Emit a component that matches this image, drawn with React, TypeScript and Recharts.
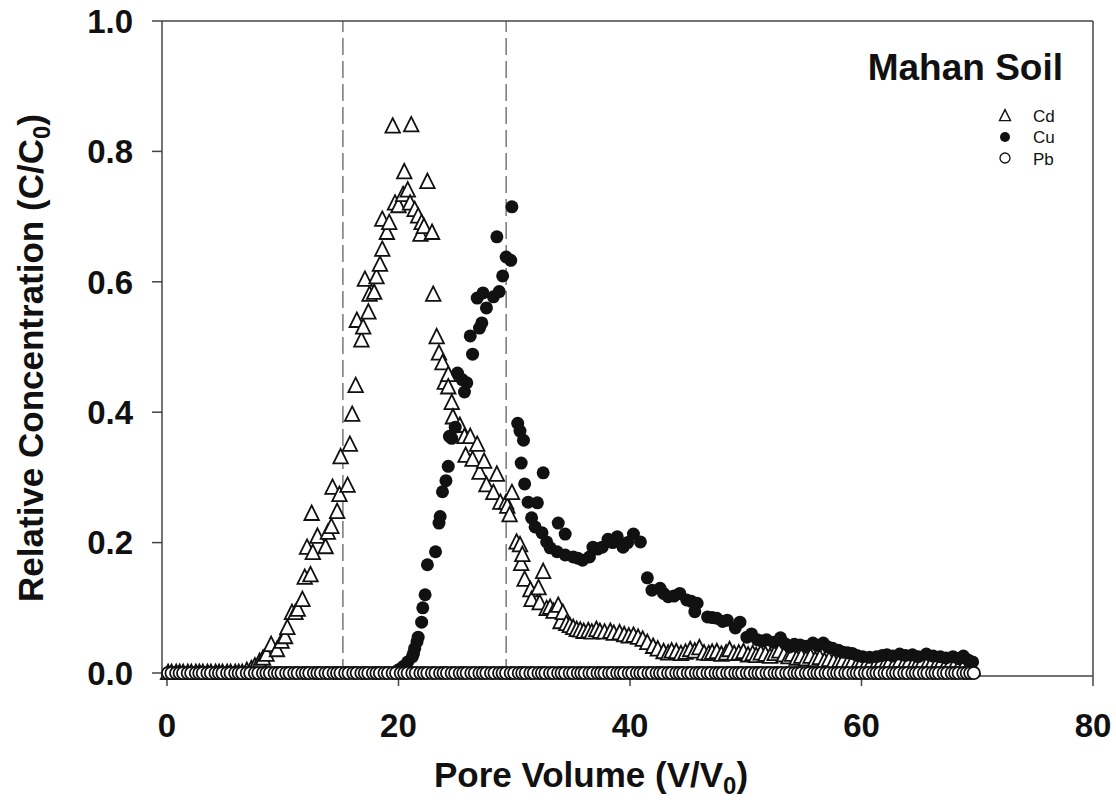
import React from 'react'
import { ScatterChart, Scatter, XAxis, YAxis, ReferenceLine } from 'recharts'

// pore volumes of the collected effluent samples (V/V0)
const poreVolumes = [
  0.1, 0.4, 0.8, 1.1, 1.4, 1.8, 2.1, 2.5, 2.8, 3.1, 3.5, 3.8, 4.2, 4.5, 4.8, 5.2, 5.5, 5.9, 6.2, 6.5,
  6.9, 7.2, 7.6, 7.9, 8.3, 8.6, 8.9, 9.3, 9.6, 9.9, 10.3, 10.6, 11.0, 11.3, 11.7, 12.0, 12.3, 12.7, 13.0, 13.3,
  13.7, 14.0, 14.4, 14.7, 15.0, 15.4, 15.7, 16.1, 16.4, 16.8, 17.1, 17.4, 17.8, 18.1, 18.4, 18.8, 19.1, 19.5, 19.8, 20.2,
  20.5, 20.8, 21.2, 21.5, 21.9, 22.2, 22.5, 22.9, 23.2, 23.6, 23.9, 24.2, 24.6, 24.9, 25.3, 25.6, 25.9, 26.3, 26.6, 27.0,
  27.3, 27.6, 28.0, 28.3, 28.7, 29.0, 29.3, 29.7, 30.0, 30.4, 30.7, 31.0, 31.4, 31.7, 32.1, 32.4, 32.7, 33.1, 33.4, 33.8,
  34.1, 34.4, 34.8, 35.1, 35.5, 35.8, 36.1, 36.5, 36.8, 37.2, 37.5, 37.8, 38.2, 38.5, 38.9, 39.2, 39.5, 39.9, 40.2, 40.6,
  40.9, 41.2, 41.6, 41.9, 42.3, 42.6, 42.9, 43.3, 43.6, 44.0, 44.3, 44.6, 45.0, 45.3, 45.7, 46.0, 46.3, 46.7, 47.0, 47.4,
  47.7, 48.0, 48.4, 48.7, 49.1, 49.4, 49.7, 50.1, 50.4, 50.8, 51.1, 51.4, 51.8, 52.1, 52.5, 52.8, 53.1, 53.5, 53.8, 54.2,
  54.5, 54.8, 55.2, 55.5, 55.9, 56.2, 56.5, 56.9, 57.2, 57.6, 57.9, 58.2, 58.6, 58.9, 59.3, 59.6, 59.9, 60.3, 60.6, 61.0,
  61.3, 61.6, 62.0, 62.3, 62.7, 63.0, 63.3, 63.7, 64.0, 64.4, 64.7, 65.0, 65.4, 65.7, 66.1, 66.4, 66.7, 67.1, 67.4, 67.8,
  68.1, 68.4, 68.8, 69.1, 69.4, 69.7,
]

// Cd breakthrough (V/V0, C/C0)
const cdPoints: [number, number][] = [
  [6.9, 0.003], [7.3, 0.006], [7.6, 0.01], [8.0, 0.017], [8.3, 0.022], [8.6, 0.028], [9.0, 0.043], [9.5, 0.035],
  [9.9, 0.048], [10.2, 0.055], [10.4, 0.069], [10.8, 0.092], [11.1, 0.092], [11.3, 0.097], [11.7, 0.112], [11.9, 0.146],
  [12.1, 0.192], [12.4, 0.15], [12.5, 0.244], [12.6, 0.184], [13.0, 0.209], [13.7, 0.193], [13.9, 0.215], [14.2, 0.224],
  [14.3, 0.284], [14.7, 0.247], [14.9, 0.273], [15.0, 0.331], [15.6, 0.287], [15.8, 0.35], [16.0, 0.396], [16.3, 0.44],
  [16.4, 0.54], [16.8, 0.51], [16.95, 0.53], [17.1, 0.603], [17.4, 0.553], [17.5, 0.58], [17.9, 0.583], [18.1, 0.607],
  [18.4, 0.626], [18.6, 0.649], [18.6, 0.695], [19.0, 0.675], [19.2, 0.69], [19.5, 0.838], [19.7, 0.72], [20.0, 0.716],
  [20.4, 0.733], [20.5, 0.768], [20.8, 0.74], [21.0, 0.72], [21.1, 0.84], [21.4, 0.71], [21.7, 0.7], [21.9, 0.672],
  [22.0, 0.69], [22.2, 0.684], [22.5, 0.753], [22.9, 0.675], [23.0, 0.58], [23.3, 0.515], [23.5, 0.49], [23.8, 0.475],
  [24.0, 0.445], [24.3, 0.457], [24.3, 0.438], [24.6, 0.414], [24.7, 0.392], [25.3, 0.379], [25.7, 0.362], [25.8, 0.333],
  [26.2, 0.362], [26.4, 0.327], [26.8, 0.35], [27.0, 0.307], [27.4, 0.324], [27.6, 0.288], [28.2, 0.276], [28.5, 0.304],
  [28.8, 0.261], [29.3, 0.261], [29.4, 0.255], [29.6, 0.242], [29.8, 0.276], [30.2, 0.2], [30.5, 0.196], [30.6, 0.167],
  [30.7, 0.181], [30.9, 0.143], [31.4, 0.127], [31.5, 0.112], [32.1, 0.13], [32.2, 0.107], [32.5, 0.155], [32.8, 0.098],
  [33.1, 0.1], [33.4, 0.094], [33.8, 0.103], [34.0, 0.078], [34.2, 0.092], [34.5, 0.075], [34.8, 0.072], [35.1, 0.069],
  [35.4, 0.066], [35.7, 0.065], [36.0, 0.063], [36.4, 0.064], [36.7, 0.062], [37.1, 0.066], [37.4, 0.063], [37.8, 0.062],
  [38.3, 0.063], [38.6, 0.06], [39.1, 0.061], [39.5, 0.058], [39.9, 0.056], [40.3, 0.057], [40.7, 0.054], [41.1, 0.051],
  [41.5, 0.046], [42.0, 0.04], [42.4, 0.036], [42.9, 0.032], [43.3, 0.03], [43.6, 0.033], [44.0, 0.032], [44.4, 0.029],
  [44.8, 0.031], [45.2, 0.035], [45.6, 0.033], [46.0, 0.038], [46.4, 0.03], [46.8, 0.029], [47.1, 0.031], [47.5, 0.032],
  [47.9, 0.028], [48.3, 0.03], [48.6, 0.035], [49.0, 0.029], [49.4, 0.03], [49.8, 0.032], [50.2, 0.027], [50.6, 0.029],
  [50.9, 0.026], [51.3, 0.03], [51.7, 0.028], [52.1, 0.025], [52.5, 0.029], [52.9, 0.033], [53.3, 0.027], [53.7, 0.024],
  [54.0, 0.028], [54.4, 0.022], [54.8, 0.025], [55.2, 0.021], [55.6, 0.025], [56.0, 0.02], [56.4, 0.023], [56.8, 0.018],
  [57.2, 0.02], [57.6, 0.017], [58.0, 0.015], [58.4, 0.018], [58.8, 0.014], [59.2, 0.016], [59.6, 0.012], [60.0, 0.015],
  [60.4, 0.013], [60.8, 0.014], [61.2, 0.011], [61.6, 0.013], [62.0, 0.012], [62.4, 0.015], [62.8, 0.012], [63.2, 0.014],
  [63.6, 0.011], [64.0, 0.013], [64.4, 0.01], [64.8, 0.012], [65.2, 0.014], [65.6, 0.011], [66.0, 0.012], [66.4, 0.01],
  [66.8, 0.012], [67.2, 0.009], [67.6, 0.011], [68.0, 0.01], [68.4, 0.008], [68.8, 0.009], [69.2, 0.008], [69.6, 0.007],
]

// Cu breakthrough (V/V0, C/C0)
const cuPoints: [number, number][] = [
  [20.0, 0.005], [20.4, 0.01], [20.8, 0.017], [21.2, 0.025], [21.3, 0.03], [21.4, 0.038], [21.6, 0.048], [21.7, 0.055],
  [22.0, 0.078], [22.1, 0.1], [22.3, 0.12], [22.5, 0.166], [23.2, 0.186], [23.5, 0.23], [23.6, 0.24], [23.8, 0.278],
  [24.1, 0.295], [24.3, 0.317], [24.4, 0.363], [24.6, 0.36], [24.9, 0.377], [25.1, 0.46], [25.5, 0.45], [25.7, 0.431],
  [25.9, 0.445], [26.2, 0.517], [26.4, 0.489], [26.8, 0.575], [27.0, 0.529], [27.2, 0.537], [27.3, 0.583], [27.6, 0.56],
  [28.2, 0.577], [28.5, 0.669], [28.7, 0.585], [29.0, 0.609], [29.3, 0.638], [29.7, 0.633], [29.8, 0.715], [30.3, 0.383],
  [30.5, 0.371], [30.6, 0.322], [30.8, 0.357], [30.9, 0.29], [31.2, 0.262], [31.5, 0.238], [31.8, 0.224], [32.0, 0.261],
  [32.4, 0.215], [32.5, 0.307], [32.8, 0.201], [33.1, 0.192], [33.7, 0.186], [33.8, 0.23], [34.4, 0.213], [34.4, 0.181],
  [35.1, 0.178], [35.5, 0.176], [35.9, 0.173], [36.5, 0.178], [36.8, 0.193], [37.2, 0.19], [37.6, 0.193], [38.1, 0.205],
  [38.5, 0.2], [38.9, 0.209], [39.4, 0.193], [39.8, 0.2], [40.3, 0.213], [40.9, 0.201], [41.5, 0.146], [41.9, 0.127],
  [42.6, 0.13], [42.9, 0.122], [43.3, 0.117], [43.8, 0.118], [44.3, 0.122], [44.9, 0.112], [45.3, 0.11], [45.6, 0.094],
  [45.8, 0.107], [46.7, 0.086], [47.1, 0.085], [47.5, 0.084], [48.0, 0.079], [48.4, 0.081], [49.1, 0.069], [49.5, 0.078],
  [50.1, 0.055], [50.5, 0.06], [51.0, 0.051], [51.4, 0.049], [51.8, 0.051], [52.4, 0.047], [53.0, 0.054], [53.4, 0.045],
  [53.8, 0.04], [54.2, 0.044], [54.7, 0.043], [55.2, 0.041], [55.8, 0.046], [56.2, 0.042], [56.7, 0.046], [57.1, 0.04],
  [57.5, 0.038], [58.0, 0.035], [58.4, 0.032], [58.8, 0.031], [59.2, 0.03], [59.6, 0.027], [60.1, 0.025], [60.7, 0.024],
  [61.3, 0.025], [61.8, 0.027], [62.2, 0.028], [62.7, 0.026], [63.3, 0.029], [63.8, 0.027], [64.4, 0.028], [64.9, 0.025],
  [65.6, 0.029], [66.2, 0.026], [66.8, 0.025], [67.3, 0.023], [67.9, 0.025], [68.4, 0.022], [68.8, 0.026], [69.2, 0.02],
  [69.6, 0.017],
]

// Cd and Cu were below detection until their fronts arrived
const cdFront = 6.8
const cuFront = 19.9

const xTicks = [0, 20, 40, 60, 80]
const xTopTicks = [10, 30, 50, 70]
const yTicks = [0, 0.2, 0.4, 0.6, 0.8, 1.0]
const dashedMarks = [15.2, 29.3]

const toRows = (pts: [number, number][]) => pts.map(([v, c]) => ({ v, c }))
const zeros = (limit: number) => poreVolumes.filter((v) => v < limit).map((v) => ({ v, c: 0 }))

const cdData = [...zeros(cdFront), ...toRows(cdPoints)]
const cuData = [...zeros(cuFront), ...toRows(cuPoints)]
const pbData = poreVolumes.map((v) => ({ v, c: 0 }))

const FONT = '"Liberation Sans", Arial, Helvetica, sans-serif'
const INK = '#111'
const AXIS = '#444'

const triPath = (cx: number, cy: number, s: number) =>
  `M${cx},${cy - s * 0.58}L${cx + s / 2},${cy + s * 0.42}L${cx - s / 2},${cy + s * 0.42}Z`

const Triangle = (p: any) => (
  <path d={triPath(p.cx, p.cy, 14.5)} fill="#fff" stroke={INK} strokeWidth={1.8} />
)
const Filled = (p: any) => <circle cx={p.cx} cy={p.cy} r={6.5} fill={INK} />
const Hollow = (p: any) => (
  <circle cx={p.cx} cy={p.cy} r={6.2} fill="#fff" stroke={INK} strokeWidth={1.8} />
)

const tickStyle = { fontSize: 33, fontWeight: 'bold', fill: INK, fontFamily: FONT }

export default function App() {
  return (
    <div style={{ position: 'absolute', left: 0, top: 0, width: 1116, height: 803, background: '#fff' }}>
      <ScatterChart width={1116} height={803} margin={{ top: 21, right: 22, bottom: 97, left: 102 }}>
        <XAxis
          dataKey="v"
          type="number"
          domain={[-0.43, 80]}
          ticks={xTicks}
          interval={0}
          tick={tickStyle}
          tickSize={10}
          tickMargin={28}
          height={30}
          axisLine={{ stroke: AXIS, strokeWidth: 1.5 }}
          tickLine={{ stroke: AXIS, strokeWidth: 1.5 }}
        />
        <XAxis
          xAxisId="top"
          orientation="top"
          type="number"
          domain={[-0.43, 80]}
          ticks={xTopTicks}
          interval={0}
          mirror
          height={1}
          tick={false}
          tickSize={6}
          axisLine={{ stroke: AXIS, strokeWidth: 1.5 }}
          tickLine={{ stroke: AXIS, strokeWidth: 1.5 }}
        />
        <YAxis
          dataKey="c"
          type="number"
          domain={[-0.0046, 1]}
          ticks={yTicks}
          interval={0}
          width={60}
          tick={tickStyle}
          tickFormatter={(v: number) => v.toFixed(1)}
          tickSize={10}
          tickMargin={19}
          axisLine={{ stroke: AXIS, strokeWidth: 1.5 }}
          tickLine={{ stroke: AXIS, strokeWidth: 1.5 }}
        />
        <YAxis
          yAxisId="right"
          orientation="right"
          type="number"
          domain={[-0.0046, 1]}
          width={1}
          tick={false}
          tickLine={false}
          axisLine={{ stroke: AXIS, strokeWidth: 1.5 }}
        />
        {dashedMarks.map((x) => (
          <ReferenceLine key={x} x={x} stroke="#555" strokeWidth={1.2} strokeDasharray="17 6" />
        ))}
        <Scatter name="Cd" data={cdData} shape={Triangle} isAnimationActive={false} />
        <Scatter name="Cu" data={cuData} shape={Filled} isAnimationActive={false} />
        <Scatter name="Pb" data={pbData} shape={Hollow} isAnimationActive={false} />
      </ScatterChart>

      <svg
        width={1116}
        height={803}
        style={{ position: 'absolute', left: 0, top: 0, pointerEvents: 'none' }}
        fontFamily={FONT}
      >
        <text x={1063} y={80} textAnchor="end" fontSize={37} fontWeight="bold" fill={INK}>
          Mahan Soil
        </text>

        {/* legend */}
        <path d={triPath(1005, 116, 11)} fill="#fff" stroke={INK} strokeWidth={1.4} />
        <circle cx={1005} cy={137} r={5} fill={INK} />
        <circle cx={1005} cy={158} r={5} fill="#fff" stroke={INK} strokeWidth={1.3} />
        <text x={1033} y={122} fontSize={17} fill={INK}>Cd</text>
        <text x={1033} y={143} fontSize={17} fill={INK}>Cu</text>
        <text x={1033} y={165} fontSize={17} fill={INK}>Pb</text>

        {/* axis titles */}
        <text
          transform="translate(43,358) rotate(-90)"
          textAnchor="middle"
          fontSize={35}
          fontWeight="bold"
          fill={INK}
        >
          Relative Concentration (C/C<tspan dy={7} fontSize={24}>0</tspan>
          <tspan dy={-7}>)</tspan>
        </text>
        <text x={591} y={787} textAnchor="middle" fontSize={35} fontWeight="bold" fill={INK}>
          Pore Volume (V/V<tspan dy={7} fontSize={24}>0</tspan>
          <tspan dy={-7}>)</tspan>
        </text>
      </svg>
    </div>
  )
}
